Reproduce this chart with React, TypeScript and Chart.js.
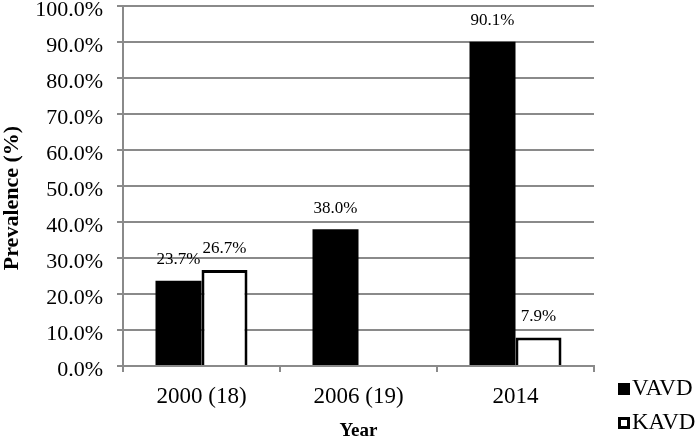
import React, { useEffect, useRef } from 'react';
import { Chart, registerables } from 'chart.js';

Chart.register(...registerables);

const categories = ['2000 (18)', '2006 (19)', '2014'];
const vavdValues: (number | null)[] = [23.7, 38.0, 90.1];
const kavdValues: (number | null)[] = [26.7, null, 7.9];
const seriesNames = ['VAVD', 'KAVD'];
const yAxisTitle = 'Prevalence (%)';
const xAxisTitle = 'Year';

const SERIF = '"Liberation Serif", "Times New Roman", serif';
const GRID = '#8a8a8a';

const valueLabelPlugin = {
  id: 'valueLabels',
  afterDatasetsDraw(chart: any) {
    const ctx = chart.ctx;
    ctx.save();
    ctx.font = `17px ${SERIF}`;
    ctx.fillStyle = '#000';
    ctx.textAlign = 'center';
    ctx.textBaseline = 'middle';
    chart.data.datasets.forEach((ds: any, i: number) => {
      const meta = chart.getDatasetMeta(i);
      meta.data.forEach((el: any, j: number) => {
        const v = ds.data[j];
        if (v == null) return;
        ctx.fillText(v.toFixed(1) + '%', el.x, el.y - 21);
      });
    });
    ctx.restore();
  },
};

const sideLegendPlugin = {
  id: 'sideLegend',
  afterDraw(chart: any) {
    const ctx = chart.ctx;
    const x = chart.chartArea.right + 24;
    const y0 = chart.chartArea.bottom + 23;
    ctx.save();
    ctx.font = `23px ${SERIF}`;
    ctx.textAlign = 'left';
    ctx.textBaseline = 'middle';
    chart.data.datasets.forEach((ds: any, i: number) => {
      const cy = y0 + i * 34;
      ctx.fillStyle = ds.backgroundColor;
      ctx.fillRect(x, cy - 6, 12, 12);
      if (ds.borderWidth) {
        ctx.strokeStyle = ds.borderColor;
        ctx.lineWidth = 3;
        ctx.strokeRect(x + 1.5, cy - 4.5, 9, 9);
      }
      ctx.fillStyle = '#000';
      ctx.fillText(ds.label, x + 14, cy);
    });
    ctx.restore();
  },
};

const yTitlePlugin = {
  id: 'yTitle',
  afterDraw(chart: any) {
    const ctx = chart.ctx;
    const area = chart.chartArea;
    ctx.save();
    ctx.translate(12, (area.top + area.bottom) / 2 + 12);
    ctx.rotate(-Math.PI / 2);
    ctx.font = `bold 22px ${SERIF}`;
    ctx.fillStyle = '#000';
    ctx.textAlign = 'center';
    ctx.textBaseline = 'middle';
    ctx.fillText(yAxisTitle, 0, 0);
    ctx.restore();
  },
};

export default function App() {
  const ref = useRef<HTMLCanvasElement | null>(null);

  useEffect(() => {
    if (!ref.current) return;
    Chart.defaults.font.family = SERIF;
    const chart = new Chart(ref.current, {
      type: 'bar',
      data: {
        labels: categories,
        datasets: [
          {
            label: seriesNames[0],
            data: vavdValues,
            backgroundColor: '#000000',
            borderWidth: 0,
            barPercentage: 1,
            categoryPercentage: 0.586,
          },
          {
            label: seriesNames[1],
            data: kavdValues,
            backgroundColor: '#ffffff',
            borderColor: '#000000',
            borderWidth: 3,
            barPercentage: 1,
            categoryPercentage: 0.586,
          },
        ],
      },
      options: {
        responsive: false,
        animation: false,
        devicePixelRatio: 1,
        layout: { padding: { left: 0, right: 106, top: 6, bottom: 0 } },
        plugins: {
          legend: { display: false },
          tooltip: { enabled: false },
        },
        scales: {
          x: {
            grid: {
              drawOnChartArea: false,
              drawTicks: true,
              tickLength: 6,
              color: GRID,
              lineWidth: 2,
            },
            border: { color: GRID, width: 2 },
            ticks: {
              color: '#000',
              font: { size: 23, family: SERIF },
              padding: 11,
              maxRotation: 0,
            },
            title: {
              display: true,
              text: xAxisTitle,
              color: '#000',
              font: { size: 19, weight: 'bold', family: SERIF },
              padding: { top: 0, bottom: 2 },
            },
            afterFit(scale: any) {
              scale.height = 78;
              scale.paddingLeft = 0;
              scale.paddingRight = 0;
            },
          },
          y: {
            min: 0,
            max: 100,
            grid: {
              color: GRID,
              lineWidth: 2,
              drawTicks: true,
              tickLength: 6,
            },
            border: { color: GRID, width: 2 },
            ticks: {
              stepSize: 10,
              color: '#000',
              font: { size: 22, family: SERIF },
              padding: 14,
              labelOffset: 4,
              callback: (v: any) => Number(v).toFixed(1) + '%',
            },
            afterFit(scale: any) {
              scale.width = 123;
              scale.paddingTop = 0;
              scale.paddingBottom = 0;
            },
          },
        },
      },
      plugins: [valueLabelPlugin, sideLegendPlugin, yTitlePlugin],
    });
    return () => chart.destroy();
  }, []);

  return (
    <div style={{ position: 'absolute', left: 0, top: 0, width: 700, height: 444 }}>
      <canvas ref={ref} width={700} height={444} />
    </div>
  );
}
